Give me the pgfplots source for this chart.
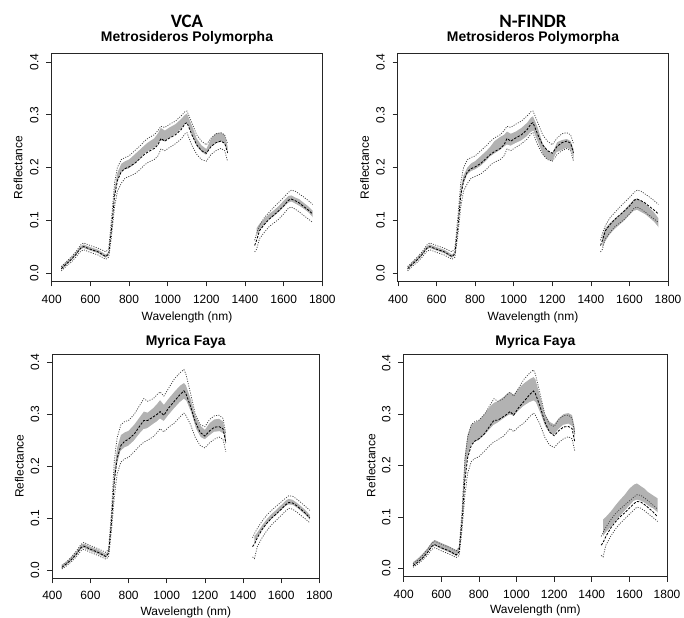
\documentclass[border=0pt]{standalone}
\usepackage{pgfplots}
\pgfplotsset{compat=1.18}
\usepackage{pgfplotstable}
\usepackage{fontspec}
\setmainfont{Liberation Sans}
\newfontfamily\calfont{Carlito}
\definecolor{bandgray}{RGB}{178,178,178}
\definecolor{dotgray}{RGB}{65,65,65}

% Metrosideros Polymorpha, 450-1310 nm: mean, mean+sd, mean-sd, VCA band (aL,aH), N-FINDR band (bL,bH)
\pgfplotstableread{
x m u l aL aH bL bH
450 0.008 0.012 0.004 0.004 0.012 0.004 0.012
475 0.017 0.021 0.013 0.013 0.021 0.013 0.021
500 0.025 0.030 0.020 0.021 0.029 0.021 0.029
525 0.035 0.040 0.030 0.031 0.039 0.031 0.039
550 0.047 0.053 0.041 0.043 0.051 0.043 0.051
565 0.050 0.057 0.044 0.046 0.054 0.046 0.054
600 0.045 0.052 0.039 0.041 0.049 0.041 0.049
640 0.040 0.047 0.034 0.036 0.044 0.036 0.044
680 0.031 0.040 0.026 0.027 0.035 0.027 0.035
695 0.036 0.046 0.030 0.032 0.040 0.032 0.040
710 0.085 0.105 0.070 0.078 0.092 0.076 0.092
725 0.145 0.170 0.125 0.140 0.160 0.135 0.160
740 0.175 0.200 0.155 0.170 0.190 0.165 0.185
760 0.192 0.215 0.170 0.190 0.207 0.185 0.200
780 0.198 0.219 0.180 0.195 0.212 0.192 0.208
800 0.201 0.222 0.183 0.197 0.215 0.195 0.212
830 0.208 0.232 0.188 0.205 0.225 0.202 0.222
860 0.218 0.242 0.197 0.216 0.235 0.212 0.232
880 0.225 0.250 0.205 0.225 0.242 0.220 0.240
900 0.230 0.256 0.210 0.230 0.248 0.225 0.250
930 0.236 0.262 0.215 0.236 0.255 0.232 0.258
950 0.243 0.270 0.222 0.243 0.265 0.238 0.262
965 0.255 0.278 0.235 0.250 0.275 0.242 0.268
985 0.250 0.276 0.232 0.248 0.270 0.240 0.264
1010 0.256 0.282 0.238 0.255 0.276 0.245 0.268
1040 0.262 0.288 0.245 0.262 0.282 0.250 0.275
1070 0.272 0.298 0.254 0.272 0.292 0.258 0.285
1090 0.283 0.306 0.264 0.280 0.300 0.266 0.295
1100 0.285 0.307 0.266 0.283 0.302 0.268 0.297
1125 0.262 0.285 0.242 0.258 0.280 0.245 0.275
1150 0.243 0.262 0.225 0.238 0.255 0.222 0.245
1175 0.232 0.250 0.215 0.228 0.242 0.214 0.232
1200 0.227 0.243 0.212 0.222 0.235 0.210 0.226
1225 0.240 0.256 0.225 0.238 0.255 0.228 0.248
1250 0.247 0.264 0.232 0.245 0.265 0.232 0.252
1275 0.250 0.266 0.236 0.248 0.266 0.236 0.254
1295 0.246 0.262 0.232 0.243 0.262 0.232 0.250
1310 0.228 0.245 0.212 0.222 0.240 0.212 0.235
}\MV
% Metrosideros Polymorpha, 1450-1750 nm
\pgfplotstableread{
x m u l aL aH bL bH
1450 0.052 0.062 0.040 0.060 0.078 0.042 0.065
1460 0.062 0.075 0.045 0.068 0.085 0.045 0.070
1475 0.080 0.090 0.065 0.078 0.093 0.058 0.085
1500 0.092 0.105 0.077 0.090 0.103 0.072 0.095
1525 0.102 0.115 0.088 0.100 0.112 0.082 0.103
1550 0.110 0.125 0.095 0.106 0.119 0.090 0.110
1575 0.118 0.134 0.102 0.114 0.127 0.098 0.120
1600 0.127 0.143 0.112 0.123 0.137 0.108 0.130
1625 0.138 0.153 0.123 0.132 0.146 0.117 0.140
1640 0.140 0.157 0.125 0.134 0.147 0.118 0.141
1660 0.137 0.155 0.121 0.130 0.143 0.114 0.137
1680 0.133 0.150 0.116 0.126 0.140 0.110 0.132
1700 0.127 0.145 0.110 0.121 0.134 0.104 0.125
1725 0.120 0.138 0.103 0.114 0.127 0.096 0.116
1750 0.112 0.130 0.096 0.104 0.118 0.085 0.104
}\MS
% Myrica Faya, 450-1310 nm
\pgfplotstableread{
x m u l aL aH bL bH
450 0.005 0.009 0.002 0.002 0.009 0.002 0.012
475 0.012 0.016 0.008 0.008 0.016 0.008 0.019
500 0.020 0.025 0.016 0.016 0.025 0.016 0.028
525 0.030 0.036 0.025 0.025 0.035 0.026 0.038
550 0.043 0.049 0.037 0.038 0.048 0.039 0.051
565 0.046 0.053 0.040 0.041 0.051 0.042 0.055
600 0.040 0.047 0.034 0.035 0.045 0.036 0.049
640 0.034 0.041 0.028 0.029 0.039 0.030 0.043
680 0.026 0.034 0.021 0.022 0.031 0.022 0.035
695 0.032 0.040 0.025 0.027 0.037 0.028 0.042
710 0.090 0.110 0.075 0.080 0.100 0.085 0.110
725 0.170 0.210 0.140 0.155 0.190 0.160 0.220
740 0.215 0.255 0.185 0.200 0.235 0.210 0.260
760 0.240 0.280 0.208 0.228 0.260 0.240 0.280
780 0.248 0.286 0.214 0.235 0.265 0.245 0.284
800 0.252 0.288 0.217 0.238 0.268 0.248 0.288
830 0.262 0.300 0.228 0.248 0.280 0.258 0.300
860 0.278 0.318 0.240 0.262 0.295 0.270 0.315
880 0.288 0.330 0.246 0.270 0.305 0.278 0.322
900 0.288 0.325 0.250 0.272 0.303 0.282 0.325
930 0.295 0.330 0.257 0.280 0.312 0.290 0.333
950 0.300 0.338 0.265 0.285 0.320 0.295 0.340
965 0.305 0.343 0.272 0.290 0.327 0.298 0.342
985 0.298 0.335 0.266 0.285 0.318 0.295 0.338
1010 0.312 0.350 0.275 0.297 0.330 0.305 0.350
1040 0.325 0.368 0.283 0.310 0.343 0.315 0.360
1070 0.338 0.380 0.295 0.322 0.355 0.322 0.368
1090 0.345 0.386 0.302 0.328 0.360 0.325 0.372
1100 0.340 0.378 0.298 0.325 0.356 0.322 0.368
1125 0.315 0.340 0.280 0.303 0.330 0.300 0.335
1150 0.285 0.300 0.255 0.272 0.297 0.275 0.300
1175 0.265 0.280 0.240 0.255 0.278 0.262 0.285
1200 0.258 0.276 0.235 0.250 0.270 0.258 0.280
1225 0.268 0.290 0.245 0.258 0.283 0.270 0.292
1250 0.275 0.297 0.252 0.265 0.290 0.278 0.300
1275 0.276 0.298 0.256 0.266 0.291 0.280 0.302
1295 0.272 0.292 0.252 0.262 0.286 0.275 0.298
1310 0.245 0.262 0.228 0.235 0.258 0.248 0.272
}\FV
% Myrica Faya, 1450-1750 nm
\pgfplotstableread{
x m u l aL aH bL bH
1450 0.045 0.062 0.025 0.045 0.062 0.055 0.090
1460 0.050 0.070 0.022 0.050 0.065 0.060 0.095
1475 0.062 0.080 0.045 0.060 0.072 0.068 0.100
1500 0.078 0.094 0.062 0.075 0.086 0.078 0.110
1525 0.090 0.106 0.076 0.087 0.098 0.090 0.122
1550 0.100 0.115 0.087 0.097 0.108 0.100 0.133
1575 0.108 0.123 0.096 0.105 0.116 0.110 0.143
1600 0.117 0.131 0.105 0.114 0.125 0.120 0.155
1625 0.126 0.139 0.114 0.122 0.134 0.130 0.163
1640 0.130 0.143 0.119 0.125 0.137 0.132 0.165
1660 0.129 0.142 0.117 0.124 0.135 0.130 0.160
1680 0.124 0.137 0.112 0.119 0.130 0.126 0.155
1700 0.118 0.131 0.106 0.113 0.124 0.120 0.148
1725 0.110 0.123 0.099 0.105 0.116 0.115 0.142
1750 0.100 0.115 0.091 0.095 0.106 0.107 0.136
}\FS

\pgfplotsset{
  rstyle/.style={
    scale only axis,
    anchor=south west,
    xmin=398, xmax=1802, ymin=-0.016, ymax=0.416,
    xtick={400,600,800,1000,1200,1400,1600,1800},
    xticklabels={400,600,800,1000,1200,1400,1600,1800},
    ytick={0,0.1,0.2,0.3,0.4},
    yticklabels={0.0,0.1,0.2,0.3,0.4},
    tick align=outside, tick pos=left,
    major tick length=5bp,
    tick style={black!85, line width=0.7bp},
    axis line style={black!85, line width=0.7bp},
    ticklabel style={font=\fontsize{12}{14}\selectfont},
    xticklabel style={anchor=center, yshift=-12.5bp},
    yticklabel style={xshift=-12bp, rotate=90, anchor=center},
    label style={font=\fontsize{12}{14}\selectfont},
    every axis title shift=0pt,
    title style={font=\fontsize{14}{16}\selectfont\bfseries, anchor=center},
    ylabel=Reflectance, xlabel={Wavelength (nm)},
  },
}
% gray band: fill from upper edge to zero, then mask below lower edge with white
\newcommand{\spectra}[4]{%
  \addplot[fill=bandgray, draw=none, forget plot] table[x=x,y=#4]{#1} \closedcycle;
  \addplot[fill=white, draw=white, line width=1.3bp, forget plot] table[x=x,y=#3]{#1} \closedcycle;
  \addplot[fill=bandgray, draw=none, forget plot, restrict x to domain=1455:1800] table[x=x,y=#4]{#2} \closedcycle;
  \addplot[fill=white, draw=white, line width=1.3bp, forget plot, restrict x to domain=1455:1800] table[x=x,y=#3]{#2} \closedcycle;
  \addplot[dotgray, line width=0.75bp, dash pattern=on 1bp off 1.4bp] table[x=x,y=u]{#1};
  \addplot[dotgray, line width=0.75bp, dash pattern=on 1bp off 1.4bp] table[x=x,y=l]{#1};
  \addplot[dotgray, line width=0.75bp, dash pattern=on 1bp off 1.4bp] table[x=x,y=u]{#2};
  \addplot[dotgray, line width=0.75bp, dash pattern=on 1bp off 1.4bp] table[x=x,y=l]{#2};
  \addplot[black, line width=0.85bp, dash pattern=on 2.4bp off 1.4bp] table[x=x,y=m]{#1};
  \addplot[black, line width=0.85bp, dash pattern=on 2.4bp off 1.4bp] table[x=x,y=m]{#2};
}

\begin{document}
\begin{tikzpicture}
\path[use as bounding box] (0bp,0bp) rectangle (684bp,618bp);
% top left: VCA, Metrosideros
\begin{axis}[rstyle, at={(51.3bp,336.6bp)}, width=271.4bp, height=227.8bp,
  title={Metrosideros Polymorpha}, title style={at={(axis description cs:0.5,1.070)}},
  xlabel style={at={(axis description cs:0.5,-0.158)}, anchor=center},
  ylabel style={at={(axis description cs:-0.122,0.5)}, anchor=center},
  extra description/.code={\node[font=\calfont\fontsize{19}{22}\selectfont\bfseries] at (axis description cs:0.5,1.143) {VCA};}]
\spectra{\MV}{\MS}{aL}{aH}
\end{axis}
% top right: N-FINDR, Metrosideros
\begin{axis}[rstyle, at={(397.6bp,336.6bp)}, width=270.8bp, height=227.8bp,
  title={Metrosideros Polymorpha}, title style={at={(axis description cs:0.5,1.070)}},
  xlabel style={at={(axis description cs:0.5,-0.158)}, anchor=center},
  ylabel style={at={(axis description cs:-0.122,0.5)}, anchor=center},
  extra description/.code={\node[font=\calfont\fontsize{19}{22}\selectfont\bfseries] at (axis description cs:0.5,1.143) {N-FINDR};}]
\spectra{\MV}{\MS}{bL}{bH}
\end{axis}
% bottom left: VCA, Myrica
\begin{axis}[rstyle, at={(51.9bp,39.7bp)}, width=267.8bp, height=224.3bp,
  title={Myrica Faya}, title style={at={(axis description cs:0.5,1.055)}},
  xlabel style={at={(axis description cs:0.5,-0.152)}, anchor=center},
  ylabel style={at={(axis description cs:-0.122,0.5)}, anchor=center}]
\spectra{\FV}{\FS}{aL}{aH}
\end{axis}
% bottom right: N-FINDR, Myrica
\begin{axis}[rstyle, at={(403.3bp,41.5bp)}, width=264.1bp, height=222bp,
  title={Myrica Faya}, title style={at={(axis description cs:0.5,1.055)}},
  xlabel style={at={(axis description cs:0.5,-0.152)}, anchor=center},
  ylabel style={at={(axis description cs:-0.122,0.5)}, anchor=center}]
\spectra{\FV}{\FS}{bL}{bH}
\end{axis}
\end{tikzpicture}
\end{document}
